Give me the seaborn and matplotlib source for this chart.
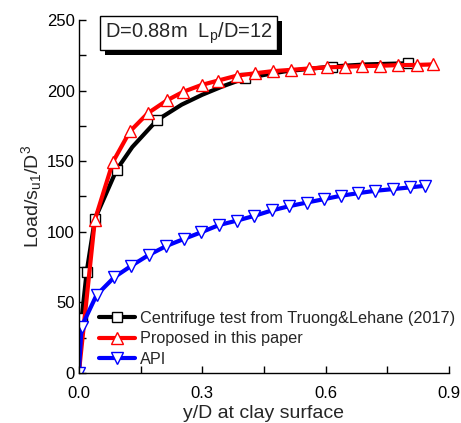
import numpy as np
import pandas as pd
import matplotlib
matplotlib.use("Agg")
import matplotlib.pyplot as plt
import matplotlib.transforms as mtransforms
from matplotlib.patches import Rectangle
import seaborn as sns
from matplotlib.ticker import MultipleLocator

# Centrifuge test (black): curve points, markers only at the test points
cent_x = [0.0, 0.007, 0.019, 0.039, 0.092, 0.13, 0.19, 0.25, 0.30, 0.35, 0.404, 0.50, 0.615, 0.70, 0.801]
cent_y = [0.0, 39.0, 71.5, 109.0, 144.0, 160.0, 179.0, 190.0, 197.0, 203.0, 208.7, 213.5, 217.0, 218.5, 219.3]
cent_marks = [1, 2, 3, 4, 6, 10, 12, 14]

# Proposed in this paper (red)
prop_x = [0.0, 0.039, 0.083, 0.124, 0.168, 0.214, 0.253, 0.299, 0.338, 0.384, 0.428,
          0.471, 0.515, 0.559, 0.603, 0.646, 0.689, 0.732, 0.777, 0.821, 0.862]
prop_y = [0.0, 108.4, 149.5, 171.0, 184.0, 193.0, 199.0, 204.0, 207.0, 210.5, 212.2,
          213.7, 214.6, 215.6, 216.4, 216.8, 217.3, 217.5, 218.0, 218.1, 218.5]

# API (blue)
api_x = [0.0, 0.0066, 0.043, 0.086, 0.128, 0.170, 0.213, 0.255, 0.297, 0.341, 0.384,
         0.427, 0.469, 0.511, 0.554, 0.596, 0.637, 0.678, 0.720, 0.763, 0.804, 0.842]
api_y = [0.0, 32.8, 55.2, 67.8, 76.0, 83.6, 90.0, 94.9, 99.6, 104.8, 107.9,
         111.3, 115.1, 118.1, 120.7, 123.1, 125.5, 127.3, 129.0, 130.2, 131.4, 132.6]

labels = ["Centrifuge test from Truong&Lehane (2017)", "Proposed in this paper", "API"]

sns.set_style("ticks")
plt.rcParams['font.family'] = ['Liberation Sans', 'DejaVu Sans']
plt.rcParams['mathtext.fontset'] = 'custom'
plt.rcParams['mathtext.rm'] = 'Liberation Sans'
plt.rcParams['mathtext.it'] = 'Liberation Sans'

fig = plt.figure(figsize=(4.61, 4.23), dpi=100)
ax = fig.add_axes([0.171, 0.118, 0.803, 0.835])

df_c = pd.DataFrame({'x': cent_x, 'y': cent_y})
df_p = pd.DataFrame({'x': prop_x, 'y': prop_y})
df_a = pd.DataFrame({'x': api_x, 'y': api_y})

sns.lineplot(data=df_c, x='x', y='y', ax=ax, color='black', lw=3.0, estimator=None, sort=False,
             marker='s', markersize=7.5, markerfacecolor='white', markeredgecolor='black',
             markeredgewidth=1.0, markevery=cent_marks, label=labels[0])
sns.lineplot(data=df_p, x='x', y='y', ax=ax, color='red', lw=3.0, estimator=None, sort=False,
             marker='^', markersize=9, markerfacecolor='white', markeredgecolor='red',
             markeredgewidth=1.0, label=labels[1])
sns.lineplot(data=df_a, x='x', y='y', ax=ax, color='blue', lw=3.0, estimator=None, sort=False,
             marker='v', markersize=9, markerfacecolor='white', markeredgecolor='blue',
             markeredgewidth=1.0, label=labels[2])

ax.set_xlim(0, 0.9)
ax.set_ylim(0, 250)
ax.xaxis.set_major_locator(MultipleLocator(0.3))
ax.xaxis.set_minor_locator(MultipleLocator(0.15))
ax.yaxis.set_major_locator(MultipleLocator(50))
ax.yaxis.set_minor_locator(MultipleLocator(25))
ax.set_xticklabels([f"{v:.1f}" for v in ax.get_xticks()])
ax.tick_params(which='both', direction='in', length=5, width=1, labelsize=12, colors='black')
ax.tick_params(axis='x', pad=9)
ax.tick_params(axis='y', pad=3)
sns.despine(ax=ax)
for s in ['left', 'bottom']:
    ax.spines[s].set_linewidth(1.0)
    ax.spines[s].set_color('black')

ax.set_xlabel("y/D at clay surface", fontsize=14, labelpad=3)
ax.set_ylabel("Load/s$_{u1}$/D$^3$", fontsize=14, labelpad=2)

leg = ax.legend(loc='lower left', bbox_to_anchor=(0.038, 0.0), frameon=False, fontsize=11.7,
                handlelength=2.2, handletextpad=0.3, labelspacing=0.32, borderaxespad=0)

# annotation box with a drop shadow
txt = ax.text(0.0703, 0.962, "D=0.88m  L$_p$/D=12", transform=ax.transAxes, fontsize=14.4,
              va='center', ha='left',
              bbox=dict(boxstyle='square,pad=0.22', fc='white', ec='black', lw=1), zorder=6)
fig.canvas.draw()
bb = txt.get_bbox_patch().get_window_extent()
ax.add_patch(Rectangle((bb.x0 + 5, bb.y0 - 5), bb.width, bb.height,
                       transform=mtransforms.IdentityTransform(), fc='black', ec='none',
                       zorder=5, clip_on=False))

fig.savefig("out.png", dpi=100)
